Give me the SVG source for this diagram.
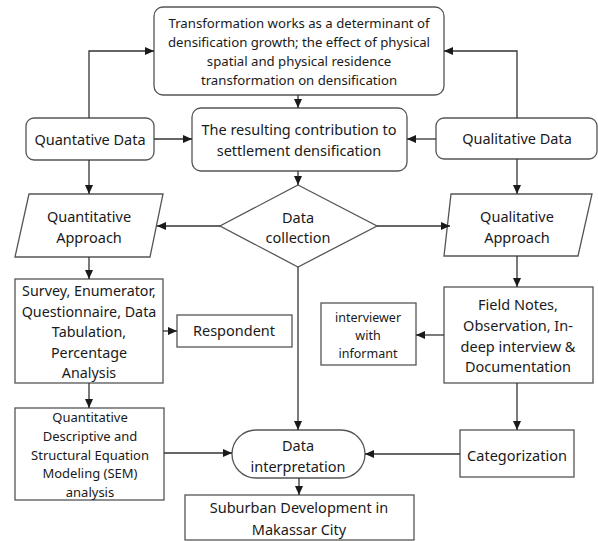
<svg xmlns="http://www.w3.org/2000/svg" width="598" height="541" viewBox="0 0 598 541">
<defs>
<marker id="ah" markerWidth="9" markerHeight="8" refX="9" refY="4" orient="auto" markerUnits="userSpaceOnUse">
<path d="M0,0 L9,4 L0,8 Z" fill="#1a1a1a"/>
</marker>
<style>
.b{fill:#fff;stroke:#555;stroke-width:1.3}
.t{font-family:"Noto Sans","Open Sans",sans-serif;fill:#1a1a1a;text-anchor:middle}
.c{fill:none;stroke:#333;stroke-width:1.3;marker-end:url(#ah)}
</style>
</defs>
<rect width="598" height="541" fill="#fff"/>
<g id="top">
<rect class="b" x="154" y="7" width="290" height="88" rx="9"/>
<text class="t" font-size="13.2"><tspan x="299" y="28">Transformation works as a determinant of</tspan><tspan x="299" y="47">densification growth; the effect of physical</tspan><tspan x="299" y="66">spatial and physical residence</tspan><tspan x="299" y="85">transformation on densification</tspan></text>
</g>
<g id="quantData">
<rect class="b" x="26" y="118" width="128" height="42" rx="8"/>
<text class="t" font-size="14.5" x="90" y="145">Quantative Data</text>
</g>
<g id="result">
<rect class="b" x="192" y="108" width="215" height="63" rx="9"/>
<text class="t" font-size="14.5"><tspan x="299" y="135">The resulting contribution to</tspan><tspan x="299" y="156">settlement densification</tspan></text>
</g>
<g id="qualData">
<rect class="b" x="436" y="118" width="161" height="41" rx="8"/>
<text class="t" font-size="14.5" x="517" y="144">Qualitative Data</text>
</g>
<g id="collection">
<polygon class="b" points="298,185 377,226 298,267 220,226"/>
<text class="t" font-size="14.5"><tspan x="298" y="223">Data</tspan><tspan x="298" y="243">collection</tspan></text>
</g>
<g id="quantApproach">
<polygon class="b" points="29,194 163,194 150,257 15,257"/>
<text class="t" font-size="14.5"><tspan x="89" y="222">Quantitative</tspan><tspan x="89" y="243">Approach</tspan></text>
</g>
<g id="qualApproach">
<polygon class="b" points="451,194 592,194 578,256 444,256"/>
<text class="t" font-size="14.5"><tspan x="517" y="222">Qualitative</tspan><tspan x="517" y="243">Approach</tspan></text>
</g>
<g id="survey">
<rect class="b" x="15" y="279" width="148" height="104"/>
<text class="t" font-size="14.3"><tspan x="89" y="296">Survey, Enumerator,</tspan><tspan x="89" y="317">Questionnaire, Data</tspan><tspan x="89" y="337">Tabulation,</tspan><tspan x="89" y="358">Percentage</tspan><tspan x="89" y="378">Analysis</tspan></text>
</g>
<g id="respondent">
<rect class="b" x="177" y="315" width="115" height="32"/>
<text class="t" font-size="14.5" x="234" y="336">Respondent</text>
</g>
<g id="fieldNotes">
<rect class="b" x="444" y="287" width="149" height="96"/>
<text class="t" font-size="14.5"><tspan x="518" y="310">Field Notes,</tspan><tspan x="518" y="331">Observation, In-</tspan><tspan x="518" y="352">deep interview &amp;</tspan><tspan x="518" y="372">Documentation</tspan></text>
</g>
<g id="interviewer">
<rect class="b" x="321" y="303" width="95" height="62"/>
<text class="t" font-size="12.5"><tspan x="368" y="322">interviewer</tspan><tspan x="368" y="340">with</tspan><tspan x="368" y="358">informant</tspan></text>
</g>
<g id="sem">
<rect class="b" x="15" y="408" width="149" height="92"/>
<text class="t" font-size="13"><tspan x="90" y="422">Quantitative</tspan><tspan x="90" y="441">Descriptive and</tspan><tspan x="90" y="460">Structural Equation</tspan><tspan x="90" y="478">Modeling (SEM)</tspan><tspan x="90" y="497">analysis</tspan></text>
</g>
<g id="interpretation">
<rect class="b" x="232" y="430" width="133" height="48" rx="24"/>
<text class="t" font-size="14.5"><tspan x="298" y="451">Data</tspan><tspan x="298" y="472">interpretation</tspan></text>
</g>
<g id="categorization">
<rect class="b" x="460" y="430" width="114" height="47"/>
<text class="t" font-size="14.5" x="517" y="461">Categorization</text>
</g>
<g id="suburban">
<rect class="b" x="185" y="495" width="229" height="45"/>
<text class="t" font-size="14.5"><tspan x="299" y="513">Suburban Development in</tspan><tspan x="299" y="535">Makassar City</tspan></text>
</g>
<g id="connectors">
<path class="c" d="M89,118 V51 H154"/>
<path class="c" d="M154,139 H192"/>
<path class="c" d="M89,160 V194"/>
<path class="c" d="M517,118 V51 H444"/>
<path class="c" d="M436,139 H407"/>
<path class="c" d="M517,159 V194"/>
<path class="c" d="M298,95 V108"/>
<path class="c" d="M298,171 V185"/>
<path class="c" d="M220,226 H157"/>
<path class="c" d="M377,226 H450"/>
<path class="c" d="M89,257 V279"/>
<path class="c" d="M163,331 H177"/>
<path class="c" d="M517,256 V287"/>
<path class="c" d="M444,335 H416"/>
<path class="c" d="M89,383 V408"/>
<path class="c" d="M298,267 V430"/>
<path class="c" d="M164,453 H232"/>
<path class="c" d="M517,383 V430"/>
<path class="c" d="M460,454 H365"/>
<path class="c" d="M299,478 V495"/>
</g>
</svg>
